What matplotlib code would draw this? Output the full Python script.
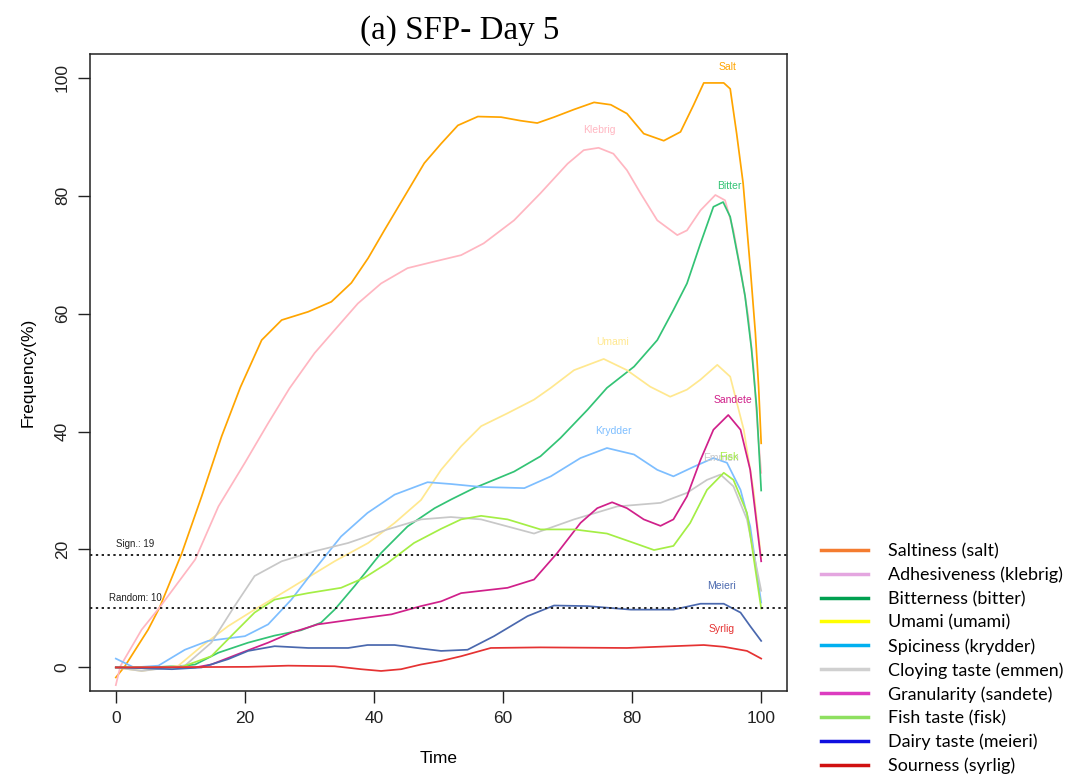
import matplotlib
matplotlib.use("Agg")
import matplotlib.pyplot as plt
from matplotlib.lines import Line2D

# ---------------- data ----------------
salt_t = [0, 1.4, 5, 6.8, 10.2, 13.3, 16.4, 19.3, 22.6, 25.7, 29.8, 33.4, 36.5, 39.1, 41.6, 44.7,
          47.8, 50.4, 53, 56.1, 59.7, 62.7, 65.3, 67.9, 71, 74.1, 76.7, 79.2, 81.8, 84.9, 87.5,
          89.5, 91.1, 94.2, 95.2, 96.2, 97.2, 98.3, 99.1, 99.6, 100]
salt = [-1.7, 0.2, 6.4, 10.2, 19.3, 29, 39.2, 47.5, 55.5, 58.9, 60.3, 62.0, 65.2, 69.4, 74.1, 79.8,
        85.5, 88.8, 91.9, 93.4, 93.3, 92.7, 92.3, 93.3, 94.6, 95.8, 95.4, 93.9, 90.5, 89.3, 90.8,
        95.3, 99.1, 99.1, 98.1, 90.5, 82.1, 67.9, 56.7, 47.6, 38]

klebrig_t = [0, 0.7, 4, 6.8, 12.3, 15.9, 20, 23.6, 26.9, 30.8, 33.9, 37.5, 41.1, 45.2, 49.3, 53.5,
             57, 61.7, 65.8, 70, 72.5, 74.8, 77.1, 79.2, 81.3, 83.9, 87, 88.5, 90.6, 92.9, 94.4,
             95.7, 97, 98, 98.8, 99.5, 100]
klebrig = [-3, 0.2, 6.4, 10.2, 18.3, 27.3, 34.7, 41.4, 47.3, 53.3, 57.2, 61.7, 65.1, 67.7, 68.8, 69.9,
           71.9, 75.8, 80.4, 85.4, 87.7, 88.1, 87.1, 84.3, 80.4, 75.8, 73.3, 74.1, 77.5, 80.1, 79.2,
           74.1, 66.2, 59.5, 51, 39.7, 33]

bitter_t = [0, 5, 10.7, 12.3, 15.9, 20.5, 24.6, 28.7, 31.8, 33.9, 37, 41.1, 45.2, 49.4, 52, 55.5,
            61.7, 65.8, 68.9, 73.1, 76.1, 80.3, 83.9, 86.4, 88.5, 90.6, 92.6, 94.1, 95.2, 96.5,
            97.5, 98.5, 99.3, 100]
bitter = [0, 0, 0.3, 0.5, 2.5, 4.2, 5.4, 6.3, 7.6, 9.8, 13.8, 19.4, 23.9, 27, 28.5, 30.4,
          33.2, 35.8, 38.9, 43.7, 47.4, 51, 55.5, 60.6, 65.1, 71.9, 78.1, 78.9, 76.4, 69,
          63, 54, 44, 30]

umami_t = [0, 4, 9.7, 13.3, 17.4, 21.5, 26.7, 33.9, 39.1, 43.2, 47.3, 50.4, 53.5, 56.6, 60.7, 64.8,
           67.4, 71, 75.6, 79.2, 82.8, 85.9, 88.5, 90.6, 93.2, 95.2, 97.3, 98.8, 100]
umami = [0, -0.6, 0.3, 3.6, 7, 9.8, 13.2, 18, 21.1, 24.5, 28.4, 33.5, 37.5, 40.9, 43.1, 45.4,
         47.4, 50.4, 52.3, 50.4, 47.6, 45.9, 47.1, 48.8, 51.3, 49.3, 40.3, 30.1, 18.5]

krydder_t = [0, 2.8, 6.6, 10.7, 14.3, 20, 23.6, 27.2, 30.8, 34.9, 39, 43.2, 48.3, 51.9, 56.6, 63.3,
             67.4, 72, 76.1, 80.3, 83.9, 86.4, 89.5, 92.6, 94.7, 96.8, 98.3, 100]
krydder = [1.5, 0, 0.3, 3, 4.5, 5.3, 7.3, 11.5, 16.6, 22.2, 26.2, 29.3, 31.4, 31.1, 30.6, 30.4,
           32.4, 35.5, 37.2, 36.1, 33.5, 32.4, 34, 35.5, 34.7, 30.1, 23.9, 11]

emmen_t = [0, 4, 10.7, 14.8, 18.4, 21.5, 25.7, 30.8, 36, 42.1, 47.3, 51.9, 56.6, 64.8, 71, 77.7,
           84.4, 88.5, 91.6, 93.7, 95.7, 97.8, 100]
emmen = [0, -0.6, 0.3, 4.2, 10.4, 15.5, 18, 19.7, 21.1, 23.4, 25.1, 25.5, 25.1, 22.7, 25.1, 27.3,
         27.9, 29.6, 31.8, 32.7, 30.7, 25.1, 13]

sandete_t = [0, 12.3, 14.8, 19.5, 23.6, 27.2, 31.3, 36.5, 42.7, 47.3, 50.4, 53.5, 60.7, 64.8, 68.4,
             72, 74.6, 76.9, 79.2, 81.8, 84.4, 86.4, 88.5, 90.6, 92.6, 94.9, 96.8, 98.3, 100]
sandete = [0, 0, 0.5, 2.5, 4.2, 5.9, 7.3, 8.1, 9, 10.4, 11.2, 12.6, 13.5, 14.9, 19.4,
           24.5, 27, 28, 27, 25.1, 24, 25.1, 29, 35.2, 40.3, 42.8, 40.3, 33.5, 18]

fisk_t = [0, 10, 14.8, 18.4, 21.5, 24.6, 29.8, 34.9, 38.5, 42.1, 46.2, 50.4, 53.5, 56.6, 60.7, 65.8,
          71, 76.1, 80.3, 83.4, 86.4, 89, 91.6, 94.2, 95.7, 97.8, 100]
fisk = [0, 0, 1.9, 5.9, 9.3, 11.5, 12.6, 13.5, 15.2, 17.7, 21.1, 23.5, 25.1, 25.7, 25.1, 23.4,
        23.4, 22.7, 21.1, 19.9, 20.6, 24.5, 30.1, 33, 31.8, 26.2, 10]

meieri_t = [0, 8.7, 13.3, 17.4, 20.5, 24.6, 29.8, 36, 39, 43.2, 47.3, 50.4, 54.5, 58.6, 63.8, 67.9,
            73.1, 79.8, 86.4, 90.6, 94.2, 96.8, 98.3, 100]
meieri = [0, -0.3, 0, 1.4, 2.8, 3.6, 3.3, 3.3, 3.8, 3.8, 3.2, 2.8, 3, 5.3, 8.7, 10.5,
          10.4, 9.8, 9.8, 10.8, 10.8, 9.3, 7, 4.5]

syrlig_t = [0, 20.5, 26.7, 33.9, 38, 41.1, 44.2, 47.3, 50.4, 53.5, 58.1, 65.8, 79.2, 91.1, 94.2, 97.8, 100]
syrlig = [0, 0.1, 0.3, 0.2, -0.3, -0.6, -0.3, 0.5, 1.1, 1.9, 3.3, 3.4, 3.3, 3.8, 3.5, 2.8, 1.5]

series_names = ["Salt", "Klebrig", "Bitter", "Umami", "Krydder", "Emmen", "Sandete", "Fisk", "Meieri", "Syrlig"]
series_t = [salt_t, klebrig_t, bitter_t, umami_t, krydder_t, emmen_t, sandete_t, fisk_t, meieri_t, syrlig_t]
series_y = [salt, klebrig, bitter, umami, krydder, emmen, sandete, fisk, meieri, syrlig]
line_colors = ["#FFA500", "#FFB6C1", "#33C375", "#FFE88F", "#7DBEFF", "#C8C8C8",
               "#D0208A", "#A4EE45", "#4A68AE", "#E53232"]
label_x = [94.8, 74.9, 95.0, 77.0, 77.1, 93.7, 95.7, 94.9, 93.9, 93.8]
label_y = [101.8, 91.1, 81.6, 55.1, 40.1, 35.5, 45.4, 35.6, 13.8, 6.5]

legend_labels = ["Saltiness (salt)", "Adhesiveness (klebrig)", "Bitterness (bitter)", "Umami (umami)",
                 "Spiciness (krydder)", "Cloying taste (emmen)", "Granularity (sandete)",
                 "Fish taste (fisk)", "Dairy taste (meieri)", "Sourness (syrlig)"]
legend_colors = ["#F47C30", "#E4A6E0", "#00A050", "#FFFF00", "#00B0F0", "#D0D0D0",
                 "#DC3CC0", "#8EE060", "#1010E0", "#D01010"]

sign_level = 19
random_level = 10
x_ticks = [0, 20, 40, 60, 80, 100]
y_ticks = [0, 20, 40, 60, 80, 100]

# ---------------- figure ----------------
fig = plt.figure(figsize=(10.69, 7.74), dpi=100)
ax = fig.add_axes([0.0842, 0.1072, 0.652, 0.823])

for t, y, c in zip(series_t, series_y, line_colors):
    ax.plot(t, y, color=c, lw=1.25, solid_joinstyle="round")

for name, lx, ly, c in zip(series_names, label_x, label_y, line_colors):
    ax.text(lx, ly, name, color=c, fontsize=7.5, ha="center", va="center",
            family="Liberation Sans")

ax.axhline(sign_level, color="#222222", lw=1.4, ls=(0, (1.2, 1.8)))
ax.axhline(random_level, color="#222222", lw=1.4, ls=(0, (1.2, 1.8)))
ax.text(3, 21, "Sign.: 19", fontsize=7, ha="center", va="center", color="#222222",
        family="Liberation Sans")
ax.text(3, 11.7, "Random: 10", fontsize=7, ha="center", va="center", color="#222222",
        family="Liberation Sans")

ax.set_xlim(-4, 104)
ax.set_ylim(-4, 104)
ax.set_xticks(x_ticks)
ax.set_yticks(y_ticks)
ax.tick_params(direction="out", length=8.5, width=1, labelsize=12.5, pad=6, colors="#222222")
for lab in ax.get_yticklabels():
    lab.set_rotation(90)
    lab.set_va("center")
for lab in ax.get_xticklabels() + ax.get_yticklabels():
    lab.set_family("Liberation Sans")
for sp in ax.spines.values():
    sp.set_linewidth(1.1)
    sp.set_color("#222222")

ax.set_xlabel("Time", fontsize=12.5, family="Liberation Sans", labelpad=18)
ax.set_ylabel("Frequency(%)", fontsize=12.5, family="Liberation Sans", labelpad=14)

fig.text(0.430, 0.960, "(a) SFP- Day 5", fontsize=23.8, family="Liberation Serif",
         ha="center", va="center")

handles = [Line2D([0], [0], color=c, lw=2.5) for c in legend_colors]
fig.legend(handles, legend_labels, loc="upper left", bbox_to_anchor=(0.768, 0.298),
           frameon=False, prop={"family": "Lato", "size": 12.9},
           handlelength=2.62, handletextpad=1.12, labelspacing=0.415, borderpad=0, borderaxespad=0)

fig.savefig("out.png", dpi=100)
